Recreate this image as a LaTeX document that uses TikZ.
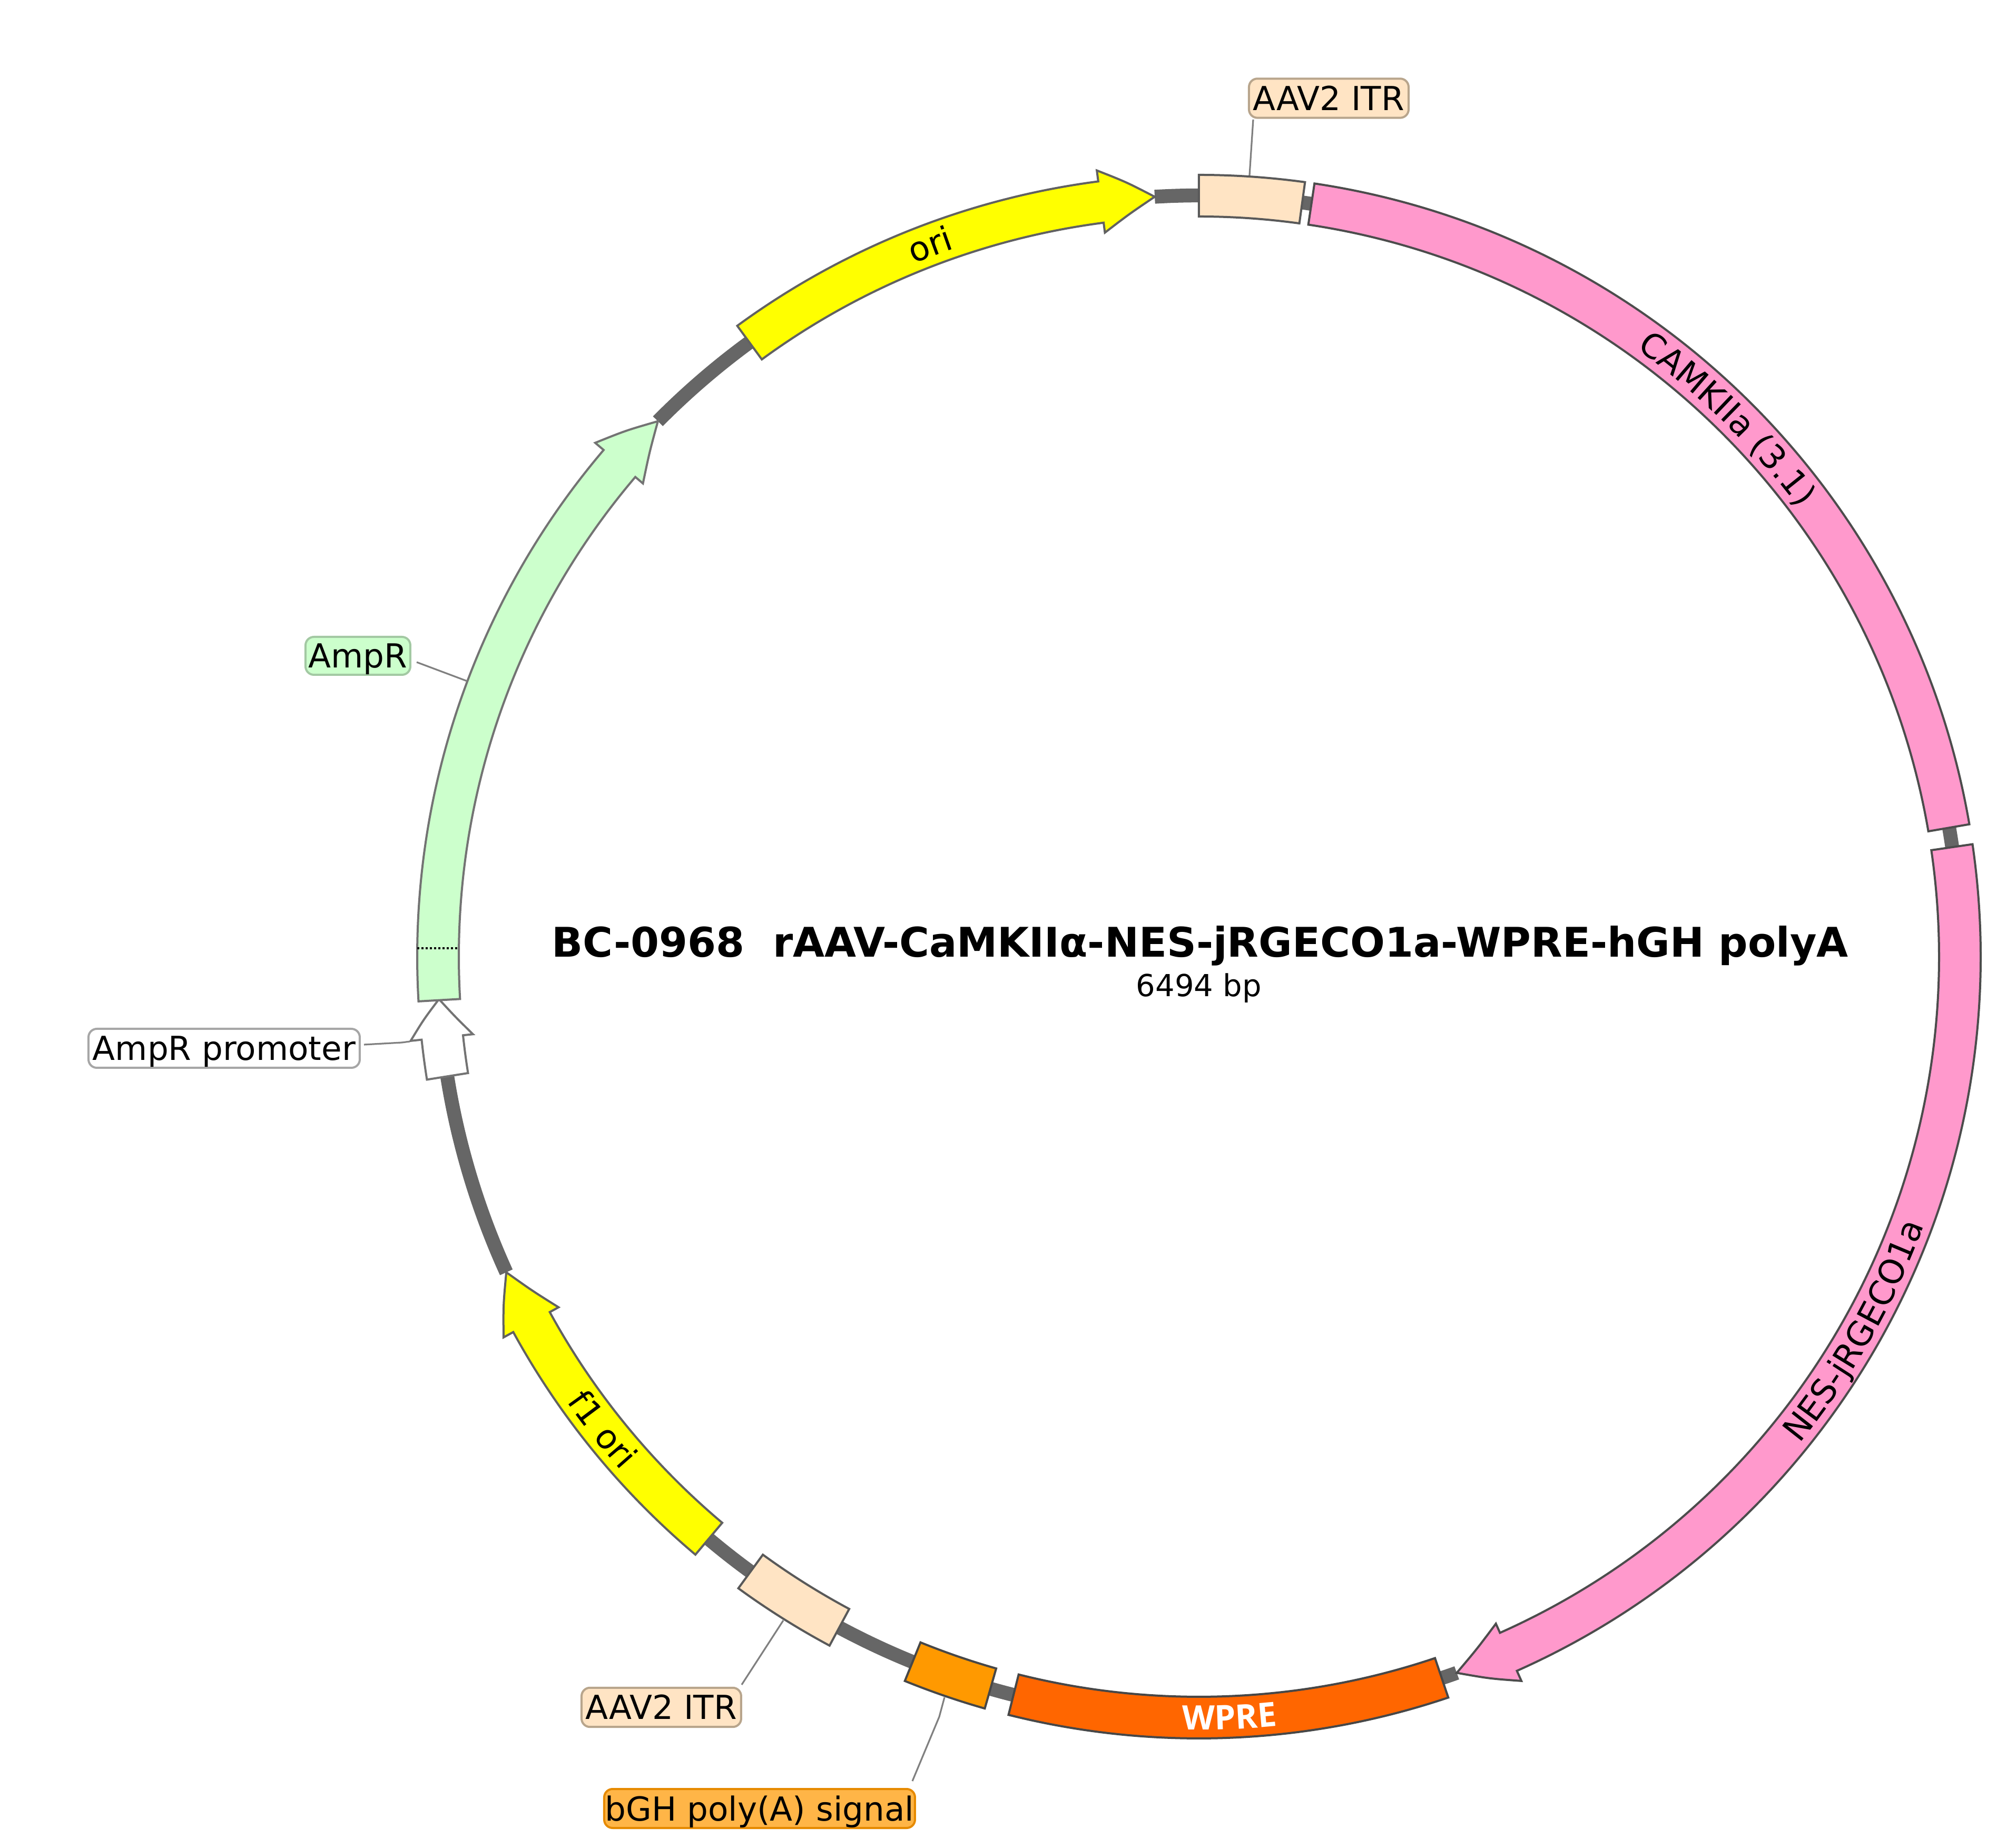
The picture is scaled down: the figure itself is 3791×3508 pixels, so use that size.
\documentclass[tikz,border=0pt]{standalone}
\usepackage{fontspec}
\setmainfont{DejaVu Sans}
\newfontfamily\wprefont{Open Sans}
\usetikzlibrary{decorations.text}
\definecolor{itrfill}{HTML}{FFE4C4}
\definecolor{itredge}{HTML}{B8A58C}
\definecolor{pinkfill}{HTML}{FF99CC}
\definecolor{orifill}{HTML}{FFFF00}
\definecolor{ampfill}{HTML}{CCFFCC}
\definecolor{ampedge}{HTML}{A3C9A3}
\definecolor{bghfill}{HTML}{FF9900}
\definecolor{bghlab}{HTML}{FFB547}
\definecolor{bghedge}{HTML}{E68A00}
\definecolor{wprefill}{HTML}{FF6600}
\definecolor{backgrey}{HTML}{666666}
\newcommand{\labfont}{\fontsize{15.7pt}{18pt}\selectfont}
\newcommand{\arcfont}{\fontsize{16pt}{18pt}\selectfont}
\newcommand{\boxfeat}[3]{%
  \draw[#1] (#2:1484) arc[start angle=#2,end angle=#3,radius=1484] -- (#3:1405)
    arc[start angle=#3,end angle=#2,radius=1405] -- cycle;}
\newcommand{\arrowfeat}[4]{%
  \pgfmathsetmacro{\midang}{(#3+#4)/2}%
  \draw[#1] (#2:1484) arc[start angle=#2,end angle=#3,radius=1484] -- (#3:1505)
    .. controls (\midang:1477) .. (#4:1445)
    .. controls (\midang:1416) .. (#3:1386) -- (#3:1405)
    arc[start angle=#3,end angle=#2,radius=1405] -- cycle;}
\newcommand{\backarc}[2]{%
  \draw[backbone] (#1:1445) arc[start angle=#1,end angle=#2,radius=1445];}
\newcommand{\arctext}[5]{%
  \path[decorate,decoration={text along path,text align=center,
    text={|\arcfont #5|#4}}] (#1:#3) arc[start angle=#1,end angle=#2,radius=#3];}
\tikzset{
  backbone/.style={draw=backgrey,line width=6.6pt},
  feat/.style={line width=1pt,line join=miter},
  itrfeat/.style={feat,draw=black!65,fill=itrfill},
  pinkfeat/.style={feat,draw=black!70,fill=pinkfill},
  orifeat/.style={feat,draw=black!62,fill=orifill},
  ampfeat/.style={feat,draw=black!55,fill=ampfill},
  promfeat/.style={feat,draw=black!55,fill=white},
  bghfeat/.style={feat,draw=black!72,fill=bghfill},
  wprefeat/.style={feat,draw=black!72,fill=wprefill},
  leader/.style={draw=black!50,line width=0.8pt},
  lab/.style={rounded corners=4pt,line width=1pt,inner sep=0pt,text height=11.5pt,text depth=0pt,
    font=\labfont,anchor=center},
  itrlab/.style={lab,draw=itredge,fill=itrfill,minimum width=75.75pt,minimum height=18.6pt},
}
\begin{document}
\begin{tikzpicture}[x=0.25pt,y=0.25pt]
\useasboundingbox (-2276,1816) rectangle (1515,-1692);
% backbone
\backarc{93.33}{90}
\backarc{82.2}{81.5}
\backarc{9.75}{8.27}
\backarc{-70.2}{-71.4}
\backarc{-104.1}{-105.9}
\backarc{-112.1}{-118.2}
\backarc{-126.1}{-130.1}
\backarc{204.5}{189.05}
\backarc{135.3}{126.2}
% features
\boxfeat{itrfeat}{90}{82.2}
\boxfeat{pinkfeat}{81.5}{9.75}
\arrowfeat{pinkfeat}{8.27}{-66}{-70.2}
\boxfeat{wprefeat}{-71.4}{-104.1}
\boxfeat{bghfeat}{-105.9}{-112.1}
\boxfeat{itrfeat}{-118.2}{-126.1}
\arrowfeat{orifeat}{-130.1}{-151.3}{-155.5}
\arrowfeat{promfeat}{189.05}{186.1}{183.2}
\arrowfeat{ampfeat}{183.28}{139.6}{135.3}
\arrowfeat{orifeat}{126.2}{97.4}{93.33}
\draw[black,line width=0.8pt,dash pattern=on 1pt off 1pt] (-1484,16) -- (-1405,16);
% labels on features
\arctext{70.5}{20.5}{1422}{CAMKIIa (3.1)}{}
\arctext{-54.7}{-4.7}{1468}{NES-jRGECO1a}{}
\arctext{-110}{-65.4}{1468}{WPRE}{\wprefont\bfseries\color{white}}
\arctext{198.4}{238.4}{1468}{f1 ori}{}
\arctext{130.7}{90.7}{1422}{ori}{}
% callout labels
\node[itrlab] (itrTop) at (246.5,1629.5) {AAV2 ITR};
\node[lab,draw=black!35,fill=white,minimum width=128.75pt,minimum height=18.5pt] (prom) at (-1850.5,-174) {AmpR promoter};
\node[lab,draw=ampedge,fill=ampfill,minimum width=49.75pt,minimum height=18pt] (amp) at (-1596.5,571) {AmpR};
\node[itrlab] (itrBot) at (-1020.5,-1425) {AAV2 ITR};
\node[lab,draw=bghedge,fill=bghlab,minimum width=147.5pt,minimum height=18.5pt] (bgh) at (-834,-1617) {bGH poly(A) signal};
% leaders
\coordinate (itrTopA) at (103,1589);
\coordinate (itrTopB) at (96,1483);
\coordinate (promA) at (-1585,-167);
\coordinate (promB) at (-1513,-163);
\coordinate (promC) at (-1498,-161);
\coordinate (ampA) at (-1485,559);
\coordinate (ampB) at (-1389,523);
\coordinate (itrBotA) at (-868,-1382);
\coordinate (itrBotB) at (-789,-1260);
\coordinate (bghA) at (-544,-1565);
\coordinate (bghB) at (-493,-1443);
\coordinate (bghC) at (-483,-1406);
\draw[leader] (itrTopA) -- (itrTopB);
\draw[leader] (promA) -- (promB) -- (promC);
\draw[leader] (ampA) -- (ampB);
\draw[leader] (itrBotA) -- (itrBotB);
\draw[leader] (bghA) -- (bghB) -- (bghC);
% centre
\node[anchor=base,inner sep=0pt,font=\fontsize{19.4pt}{22pt}\selectfont\bfseries] (title) at (2,-1) {BC-0968\ \ rAAV-CaMKIIα-NES-jRGECO1a-WPRE-hGH polyA};
\node[anchor=base,inner sep=0pt,font=\fontsize{14.4pt}{17pt}\selectfont] (size) at (0,-76) {6494 bp};
\end{tikzpicture}
\end{document}
